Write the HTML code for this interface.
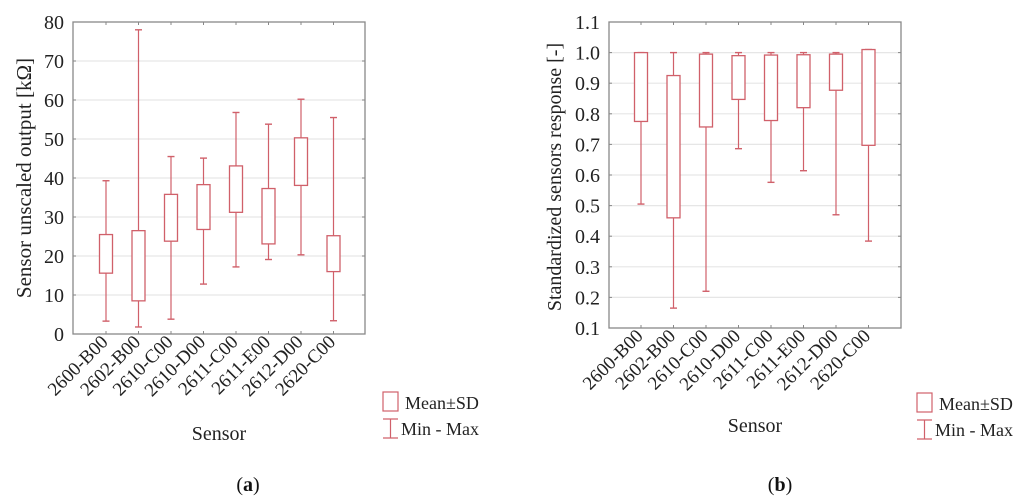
<!DOCTYPE html>
<html><head><meta charset="utf-8"><style>
html,body{margin:0;padding:0;background:#fff;}
svg{display:block;font-family:"Liberation Serif",serif;}
</style></head><body>
<svg id="fig" width="1024" height="504" viewBox="0 0 1024 504" xmlns="http://www.w3.org/2000/svg"></svg>
<script>
const categories = ["2600-B00","2602-B00","2610-C00","2610-D00","2611-C00","2611-E00","2612-D00","2620-C00"];
const aMin  = [3.3, 1.8, 3.8, 12.8, 17.2, 19.1, 20.3, 3.4];
const aLow  = [15.6, 8.5, 23.8, 26.8, 31.2, 23.1, 38.1, 16.0];
const aHigh = [25.5, 26.5, 35.8, 38.3, 43.1, 37.3, 50.3, 25.2];
const aMax  = [39.3, 78.0, 45.5, 45.1, 56.8, 53.8, 60.2, 55.5];
const aTicks = [0,10,20,30,40,50,60,70,80];
const bMin  = [0.505, 0.165, 0.22, 0.686, 0.576, 0.614, 0.47, 0.384];
const bLow  = [0.775, 0.46, 0.757, 0.847, 0.778, 0.82, 0.877, 0.697];
const bHigh = [1.0, 0.925, 0.995, 0.99, 0.992, 0.993, 0.995, 1.01];
const bMax  = [1.0, 1.0, 1.0, 1.0, 1.0, 1.0, 1.0, 1.01];
const bTicks = [0.1,0.2,0.3,0.4,0.5,0.6,0.7,0.8,0.9,1.0,1.1];

const NS = "http://www.w3.org/2000/svg";
const svg = document.getElementById("fig");
function mk(tag, attrs, parent, text){
  const e = document.createElementNS(NS, tag);
  for (const k in attrs) e.setAttribute(k, attrs[k]);
  if (text !== undefined) e.textContent = text;
  (parent||svg).appendChild(e);
  return e;
}
const RED = "#d0606a";

function panel(p){
  const g = mk("g", {});
  
  
  const y = v => p.y0 - (v - p.vmin) / (p.vmax - p.vmin) * (p.y0 - p.y1);
  const step = 32.5;
  const x = i => p.cx0 + i * step;
  p.ticks.forEach(t => {
    if (t !== p.vmin && t !== p.vmax) {
      const l = mk("line", {x1:p.x0, x2:p.x1, y1:y(t), y2:y(t), stroke:"#e6e6e6", "stroke-width":1.2}, g);
      
      
    }
    const tk = mk("line", {x1:p.x0, x2:p.x0+3, y1:y(t), y2:y(t), stroke:"#888"}, g);
    
    
    const tk2 = mk("line", {x1:p.x1-3, x2:p.x1, y1:y(t), y2:y(t), stroke:"#888"}, g);
    
    
    const lb = mk("text", {x:p.x0-9, y:y(t)+7, "text-anchor":"end", "font-size":20, fill:"#222"}, g, p.fmt(t));
    
    
  });
  const fr = mk("rect", {x:p.x0, y:p.y1, width:p.x1-p.x0, height:p.y0-p.y1, fill:"none", stroke:"#888", "stroke-width":1.3}, g);
  
  
  categories.forEach((c, i) => {
    const cx = x(i);
    const t1 = mk("line", {x1:cx, x2:cx, y1:p.y0, y2:p.y0-3, stroke:"#888"}, g);
    
    
    const t2 = mk("line", {x1:cx, x2:cx, y1:p.y1, y2:p.y1+3, stroke:"#888"}, g);
    
    
    const lb = mk("text", {x:cx+3, y:p.y0+9, "text-anchor":"end", "font-size":19, fill:"#222",
      transform:`rotate(-45 ${cx+3} ${p.y0+9})`}, g, c);
    
    
    const w = mk("line", {x1:cx, x2:cx, y1:y(p.mn[i]), y2:y(p.mx[i]), stroke:RED, "stroke-width":1.2}, g);
    
    
    [p.mn[i], p.mx[i]].forEach(v => {
      const cap = mk("line", {x1:cx-3.5, x2:cx+3.5, y1:y(v), y2:y(v), stroke:RED, "stroke-width":1.4}, g);
      
      
    });
    const b = mk("rect", {x:cx-6.5, y:y(p.hi[i]), width:13, height:y(p.lo[i])-y(p.hi[i]), fill:"#fff", stroke:RED, "stroke-width":1.3}, g);
    
    
  });
  const yt = mk("text", {x:0, y:0, "text-anchor":"middle", "font-size":p.yfs, fill:"#222",
    transform:`translate(${p.ytx} ${p.yty}) rotate(-90)`}, g, p.ytitle);
  
  
  const xt = mk("text", {x:p.sx, y:p.sy, "text-anchor":"middle", "font-size":20, fill:"#222"}, g, "Sensor");
  
  
  const lg = mk("g", {}, g);
  
  
  const lb1 = mk("rect", {x:p.lx, y:p.ly, width:15, height:19, fill:"none", stroke:RED, "stroke-width":1.2}, lg);
  
  
  const lt1 = mk("text", {x:p.lx+22, y:p.ly+17, "font-size":18, fill:"#222"}, lg, "Mean±SD");
  
  
  const my = p.ly + 27;
  const ic = mk("path", {d:`M${p.lx} ${my}H${p.lx+15}M${p.lx+7.5} ${my}V${my+19}M${p.lx} ${my+19}H${p.lx+15}`, fill:"none", stroke:RED, "stroke-width":1.2}, lg);
  
  
  const lt2 = mk("text", {x:p.lx+18, y:my+16, "font-size":18, fill:"#222"}, lg, "Min - Max");
  
  
  const cap = mk("text", {x:p.capx, y:491, "text-anchor":"middle", "font-size":20, fill:"#111"}, g);
  
  
  mk("tspan", {}, cap, "(");
  mk("tspan", {"font-weight":"bold"}, cap, p.letter);
  mk("tspan", {}, cap, ")");
}

panel({name:"panel-a", x0:73, x1:365, y0:334, y1:22, vmin:0, vmax:80, cx0:106,
  ticks:aTicks, fmt:t=>String(t), mn:aMin, lo:aLow, hi:aHigh, mx:aMax,
  ytitle:"Sensor unscaled output [kΩ]", yfs:21, ytx:31, yty:178, sx:219, sy:440,
  lx:383, ly:392, capx:248, letter:"a"});
panel({name:"panel-b", x0:609, x1:901, y0:328, y1:22, vmin:0.1, vmax:1.1, cx0:641,
  ticks:bTicks, fmt:t=>t.toFixed(1), mn:bMin, lo:bLow, hi:bHigh, mx:bMax,
  ytitle:"Standardized sensors response [-]", yfs:20, ytx:561, yty:177, sx:755, sy:432,
  lx:917, ly:393, capx:780, letter:"b"});
</script>
</body></html>
